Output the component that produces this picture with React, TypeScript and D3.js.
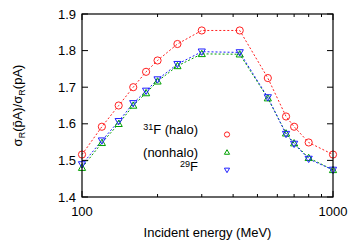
import React from 'react';
import * as d3 from 'd3';

const energies = [100, 120, 140, 160, 180, 200, 240, 300, 425, 550, 650, 700, 800, 1000];
const halo31F = [1.516, 1.592, 1.65, 1.7, 1.742, 1.773, 1.818, 1.855, 1.855, 1.725, 1.62, 1.592, 1.549, 1.516];
const nonhalo = [1.48, 1.548, 1.6, 1.65, 1.684, 1.716, 1.758, 1.791, 1.79, 1.67, 1.574, 1.547, 1.507, 1.474];
const f29 = [1.489, 1.554, 1.607, 1.656, 1.69, 1.721, 1.763, 1.797, 1.795, 1.672, 1.572, 1.545, 1.504, 1.474];
const yTicks = [1.4, 1.5, 1.6, 1.7, 1.8, 1.9];
const xMajor = [100, 1000];
const xMinor = [200, 300, 400, 500, 600, 700, 800, 900];

const W = 350;
const H = 245;
const m = { left: 82, right: 17, top: 14, bottom: 48 };
const font = 'Liberation Sans, Arial, sans-serif';

const x = d3.scaleLog().domain([100, 1000]).range([m.left, W - m.right]);
const y = d3.scaleLinear().domain([1.4, 1.9]).range([H - m.bottom, m.top]);

const line = d3
  .line<number>()
  .x((_, i) => x(energies[i]))
  .y(d => y(d));

const series = [
  { id: 'halo', values: halo31F, color: '#ff2020', shape: 'circle' },
  { id: 'nonhalo', values: nonhalo, color: '#00a000', shape: 'up' },
  { id: '29F', values: f29, color: '#2020ff', shape: 'down' },
];

const Marker = ({ cx, cy, shape, color, s = 3.6 }) => {
  if (shape === 'circle') {
    return <circle cx={cx} cy={cy} r={s} fill="none" stroke={color} strokeWidth={1} />;
  }
  const pts =
    shape === 'up'
      ? `${cx},${cy - s} ${cx - s},${cy + s * 0.75} ${cx + s},${cy + s * 0.75}`
      : `${cx},${cy + s} ${cx - s},${cy - s * 0.75} ${cx + s},${cy - s * 0.75}`;
  return <polygon points={pts} fill="none" stroke={color} strokeWidth={1} />;
};

export default function App() {
  const x0 = m.left;
  const x1 = W - m.right;
  const y0 = H - m.bottom;
  const y1 = m.top;
  return (
    <svg width={W} height={H} style={{ position: 'absolute', left: 0, top: 0 }} fontFamily={font}>
      <rect width={W} height={H} fill="white" />
      {series.map(s => (
        <path
          key={s.id}
          d={line(s.values) || ''}
          fill="none"
          stroke={s.color}
          strokeWidth={1}
          strokeDasharray="2,2"
        />
      ))}
      {series.map(s =>
        s.values.map((v, i) => (
          <Marker key={s.id + i} cx={x(energies[i])} cy={y(v)} shape={s.shape} color={s.color} />
        ))
      )}
      <rect x={x0} y={y1} width={x1 - x0} height={y0 - y1} fill="none" stroke="black" strokeWidth={1.2} />
      {yTicks.map(t => (
        <g key={t}>
          <line x1={x0} x2={x0 + 6} y1={y(t)} y2={y(t)} stroke="black" />
          <line x1={x1} x2={x1 - 6} y1={y(t)} y2={y(t)} stroke="black" />
          <text x={x0 - 6} y={y(t)} dy="0.35em" textAnchor="end" fontSize={13}>
            {t.toFixed(1)}
          </text>
        </g>
      ))}
      {xMajor.map(t => (
        <g key={t}>
          <line x1={x(t)} x2={x(t)} y1={y0} y2={y0 - 6} stroke="black" />
          <line x1={x(t)} x2={x(t)} y1={y1} y2={y1 + 6} stroke="black" />
          <text x={x(t)} y={y0 + 19} textAnchor="middle" fontSize={13}>
            {t}
          </text>
        </g>
      ))}
      {xMinor.map(t => (
        <g key={t}>
          <line x1={x(t)} x2={x(t)} y1={y0} y2={y0 - 3} stroke="black" />
          <line x1={x(t)} x2={x(t)} y1={y1} y2={y1 + 3} stroke="black" />
        </g>
      ))}
      <text x={(x0 + x1) / 2} y={H - 8} textAnchor="middle" fontSize={13}>
        Incident energy (MeV)
      </text>
      <text transform={`translate(22,${(y0 + y1) / 2}) rotate(-90)`} textAnchor="middle" fontSize={13}>
        σ<tspan fontSize={9} dy="3">R</tspan>
        <tspan dy="-3">(p̄A)/σ</tspan>
        <tspan fontSize={9} dy="3">R</tspan>
        <tspan dy="-3">(pA)</tspan>
      </text>
      <g fontSize={13}>
        <text x={198} y={134} dy="0.35em" textAnchor="end">
          <tspan fontSize={9} dy="-4">31</tspan>
          <tspan dy="4">F (halo)</tspan>
        </text>
        <text x={198} y={152} dy="0.35em" textAnchor="end">
          (nonhalo)
        </text>
        <text x={198} y={170.5} dy="0.35em" textAnchor="end">
          <tspan fontSize={9} dy="-4">29</tspan>
          <tspan dy="4">F</tspan>
        </text>
      </g>
      {series.map((s, i) => (
        <Marker key={'lg' + s.id} cx={227} cy={134.5 + i * 17.8} shape={s.shape} color={s.color} s={2.6} />
      ))}
    </svg>
  );
}
